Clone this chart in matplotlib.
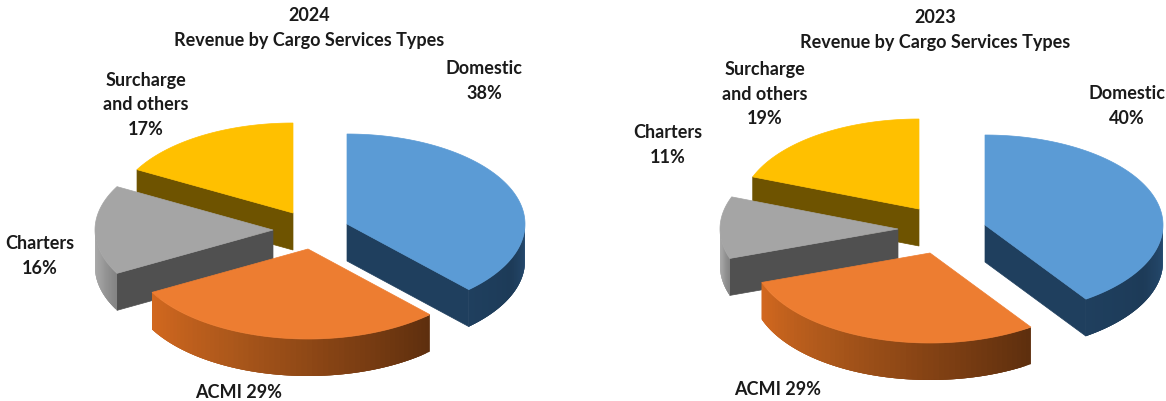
import numpy as np
import matplotlib
matplotlib.use("Agg")
import matplotlib.pyplot as plt
from matplotlib.colors import LinearSegmentedColormap
from matplotlib.patches import Polygon

plt.rcParams['font.family'] = ['Lato', 'DejaVu Sans']

# --- DATA ---
categories = ["Domestic", "ACMI", "Charters", "Surcharge\nand others"]
values_2024 = [38, 29, 16, 17]
values_2023 = [40, 29, 11, 19]

# --- LAYOUT (pixels of the 1166x402 picture) ---
rx, ry, depth = 178, 90, 37
# the pixel position where each exploded slice has its tip
tips_2024 = [(347, 225), (308, 250), (273, 231), (293, 214)]
tips_2023 = [(985, 226), (930, 254), (898, 230), (919, 210)]

top_colors = ["#5B9BD5", "#ED7D31", "#A5A5A5", "#FFC000"]
wall_colors = ["#1F3F5E", "#7F3F12", "#505050", "#6E5300"]
# outer rim colours run along the slice, start to end of angle
rim_colors = [
    ["#274D73", "#1D3B58", "#1F3F5E"],
    ["#5E2F0E", "#854314", "#AD581B", "#D2681F"],
    ["#848484", "#A0A0A0", "#ABABAB"],
    ["#6E5300", "#6E5300"],
]
draw_order = [3, 2, 0, 1]


def rim(tip, t):
    # t in degrees, clockwise from the top of the ellipse
    t = np.radians(t)
    return tip[0] + rx * np.sin(t), tip[1] - ry * np.cos(t)


def draw_pie(ax, values, tips):
    shares = np.array(values) / sum(values) * 360
    ends = np.cumsum(shares)
    starts = ends - shares

    for i in draw_order:
        tip = tips[i]
        t0, t1 = starts[i], ends[i]
        ts = np.linspace(t0, t1, 120)
        xs, ys = rim(tip, ts)

        # flat inner face, only when it looks towards the viewer
        if i == 0 or i == 2 or i == 3:
            x_end, y_end = rim(tip, t1 if i == 0 else t0)
            ax.add_patch(Polygon([tip, (x_end, y_end), (x_end, y_end + depth), (tip[0], tip[1] + depth)],
                                 fc=wall_colors[i], ec=wall_colors[i], lw=0.5))

        # outer rim, cut in narrow strips for the shading, each one
        # overlapping the next so no seams show
        lo, hi = max(t0, 90), min(t1, 270)
        if hi > lo:
            cmap = LinearSegmentedColormap.from_list("rim", rim_colors[i])
            edges = np.linspace(lo, hi, 61)
            for k in range(60):
                a = np.linspace(edges[k], edges[min(k + 3, 60)], 6)
                sx, sy = rim(tip, a)
                pts = list(zip(sx, sy)) + list(zip(sx[::-1], sy[::-1] + depth))
                ax.add_patch(Polygon(pts, fc=cmap(k / 59), ec='none'))

        ax.add_patch(Polygon([tip] + list(zip(xs, ys)), fc=top_colors[i], ec=top_colors[i], lw=0.5))


fig = plt.figure(figsize=(11.66, 4.02), dpi=100)
ax = fig.add_axes([0, 0, 1, 1])
ax.set_xlim(0, 1166)
ax.set_ylim(402, 0)
ax.axis("off")

draw_pie(ax, values_2024, tips_2024)
draw_pie(ax, values_2023, tips_2023)

txt = dict(ha='center', va='center', fontweight='bold', fontsize=13, color='#1a1a1a', linespacing=1.55)

ax.text(309, 28, "2024\nRevenue by Cargo Services Types", **txt)
ax.text(935, 30, "2023\nRevenue by Cargo Services Types", **txt)

ax.text(484, 81, f"{categories[0]}\n{values_2024[0]}%", **txt)
ax.text(239, 393, f"{categories[1]} {values_2024[1]}%", **txt)
ax.text(40, 256, f"{categories[2]}\n{values_2024[2]}%", **txt)
ax.text(146, 105, f"{categories[3]}\n{values_2024[3]}%", **txt)

ax.text(1127, 106, f"{categories[0]}\n{values_2023[0]}%", **txt)
ax.text(778, 390, f"{categories[1]} {values_2023[1]}%", **txt)
ax.text(668, 145, f"{categories[2]}\n{values_2023[2]}%", **txt)
ax.text(765, 94, f"{categories[3]}\n{values_2023[3]}%", **txt)

fig.savefig("out.png", dpi=100)
